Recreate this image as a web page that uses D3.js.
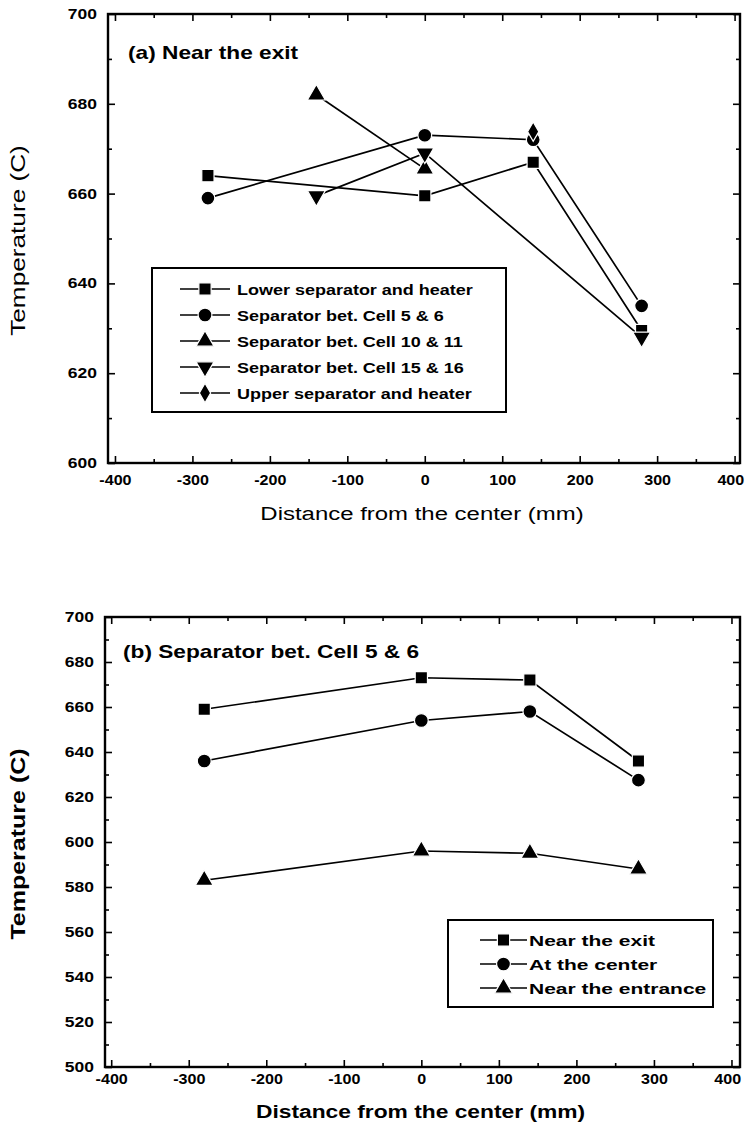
<!DOCTYPE html>
<html lang="en">
<head>
<meta charset="UTF-8" />
<title>Separator temperatures</title>
<script src="https://d3js.org/d3.v7.min.js"></script>
<style>
  body { margin: 0; background: #fff; }
  svg { display: block; font-family: Arial, "Liberation Sans", Helvetica, sans-serif; }
  .frame { fill: none; stroke: #000; stroke-width: 2.4px; }
  .series { fill: none; stroke: #000; stroke-width: 1.7px; }
  .axis path { display: none; }
  .axis line { stroke: #000; stroke-width: 1.6px; }
  .axis text { font-size: 14px; font-weight: bold; fill: #000; }
  .legend-box { fill: #fff; stroke: #000; stroke-width: 2px; }
</style>
</head>
<body>
<svg width="748" height="1126"></svg>
<script>
// (a) near the exit: distance from center (mm) and temperature (C)
const aDist = [-280, -140, 0, 140, 280];
const aLower = [664, null, 659.5, 667, 629.5];
const aCell56 = [659, null, 673, 672, 635];
const aCell1011 = [null, 682, 665.5, null, null];
const aCell1516 = [null, 659.5, 669, null, 628];
const aUpper = [null, null, null, 673.8, null];
const aNames = ["Lower separator and heater", "Separator bet. Cell 5 & 6",
  "Separator bet. Cell 10 & 11", "Separator bet. Cell 15 & 16", "Upper separator and heater"];

// (b) separator between cell 5 & 6
const bDist = [-280, 0, 140, 280];
const bExit = [659, 673, 672, 636];
const bCenter = [636, 654, 658, 627.5];
const bEntrance = [583, 596, 595, 588];
const bNames = ["Near the exit", "At the center", "Near the entrance"];

const xTicks = [-400, -300, -200, -100, 0, 100, 200, 300, 400];
const aYTicks = [600, 620, 640, 660, 680, 700];
const bYTicks = [500, 520, 540, 560, 580, 600, 620, 640, 660, 680, 700];

const svg = d3.select("svg");

const markers = {
  square: { type: d3.symbolSquare, size: 150, rot: 0 },
  circle: { type: d3.symbolCircle, size: 150, rot: 0 },
  up: { type: d3.symbolTriangle, size: 140, rot: 0 },
  down: { type: d3.symbolTriangle, size: 140, rot: 180 },
  diamond: { type: d3.symbolDiamond, size: 110, rot: 0 }
};

function drawMarker(g, kind, cx, cy) {
  const m = markers[kind];
  g.append("path")
    .attr("d", d3.symbol().type(m.type).size(m.size)())
    .attr("transform", `translate(${cx},${cy}) rotate(${m.rot})`)
    .attr("fill", "#000")
    .attr("stroke", "#fff")
    .attr("stroke-width", 1.2);
}

function stretchText(g, x, y, str, sx, opts) {
  return g.append("text")
    .attr("transform", `translate(${x},${y}) ${opts.rotate ? "rotate(-90)" : ""} scale(${sx},1)`)
    .attr("text-anchor", opts.anchor || "start")
    .attr("font-size", opts.size)
    .attr("font-weight", opts.bold ? "bold" : "normal")
    .text(str);
}

function drawPanel(p) {
  const g = svg.append("g");
  const x = d3.scaleLinear().domain(p.xDomain).range([p.left, p.right]);
  const y = d3.scaleLinear().domain(p.yDomain).range([p.bottom, p.top]);
  const xMinor = xTicks.slice(1).map(t => t - 50);
  const yMinor = p.yTicks.slice(1).map(t => t - 10);
  const fmt = d => String(d);

  // bottom axis with labels
  const bx = g.append("g").attr("class", "axis")
    .attr("transform", `translate(0,${p.bottom})`)
    .call(d3.axisBottom(x).tickValues(xTicks).tickSize(-7).tickPadding(p.xPad).tickFormat(fmt));
  bx.selectAll("text").attr("transform", "scale(1.15,1)");
  bx.selectAll(".tick:last-of-type text").attr("text-anchor", "end").attr("x", 8);
  g.append("g").attr("class", "axis")
    .attr("transform", `translate(0,${p.bottom})`)
    .call(d3.axisBottom(x).tickValues(xMinor).tickSize(-4).tickFormat(""));

  // top mirror
  g.append("g").attr("class", "axis")
    .attr("transform", `translate(0,${p.top})`)
    .call(d3.axisTop(x).tickValues(xTicks).tickSize(-7).tickFormat(""));
  g.append("g").attr("class", "axis")
    .attr("transform", `translate(0,${p.top})`)
    .call(d3.axisTop(x).tickValues(xMinor).tickSize(-4).tickFormat(""));

  // left axis with labels
  const ly = g.append("g").attr("class", "axis")
    .attr("transform", `translate(${p.left},0)`)
    .call(d3.axisLeft(y).tickValues(p.yTicks).tickSize(-7).tickFormat(fmt));
  ly.selectAll("text").attr("x", 0).attr("transform", "translate(-11,0) scale(1.25,1)");
  g.append("g").attr("class", "axis")
    .attr("transform", `translate(${p.left},0)`)
    .call(d3.axisLeft(y).tickValues(yMinor).tickSize(-4).tickFormat(""));

  // right mirror
  g.append("g").attr("class", "axis")
    .attr("transform", `translate(${p.right},0)`)
    .call(d3.axisRight(y).tickValues(p.yTicks).tickSize(-7).tickFormat(""));
  g.append("g").attr("class", "axis")
    .attr("transform", `translate(${p.right},0)`)
    .call(d3.axisRight(y).tickValues(yMinor).tickSize(-4).tickFormat(""));

  g.append("rect").attr("class", "frame")
    .attr("x", p.left).attr("y", p.top)
    .attr("width", p.right - p.left).attr("height", p.bottom - p.top);

  // series lines then markers
  const line = d3.line().x(d => x(d[0])).y(d => y(d[1]));
  p.series.forEach(s => {
    const pts = p.dist.map((d, i) => [d, s.values[i]]).filter(d => d[1] != null);
    if (pts.length > 1) g.append("path").attr("class", "series").attr("d", line(pts));
  });
  p.series.forEach(s => {
    p.dist.forEach((d, i) => {
      if (s.values[i] != null) drawMarker(g, s.marker, x(d), y(s.values[i]));
    });
  });

  // panel title
  stretchText(g, p.titleX, p.titleY, p.title, 1.26, { size: 18, bold: true });

  // legend
  const L = p.legend;
  g.append("rect").attr("class", "legend-box")
    .attr("x", L.x).attr("y", L.y).attr("width", L.w).attr("height", L.h);
  p.series.forEach((s, i) => {
    const cy = L.firstRow + i * L.step;
    g.append("line")
      .attr("x1", L.x + L.lineFrom).attr("x2", L.x + L.lineTo)
      .attr("y1", cy).attr("y2", cy)
      .attr("stroke", "#000").attr("stroke-width", 1.6);
    drawMarker(g, s.marker, L.x + (L.lineFrom + L.lineTo) / 2, cy);
    stretchText(g, L.x + L.textX, cy + 5.5, s.name, L.sx, { size: 15, bold: true });
  });

  // axis titles
  stretchText(g, (p.left + p.right) / 2 - 2, p.xTitleY, "Distance from the center (mm)", p.titleSx,
    { size: 19, bold: p.boldTitles, anchor: "middle" });
  stretchText(g, 25, (p.top + p.bottom) / 2 + 2, "Temperature (C)", p.titleSx + 0.05,
    { size: 20, bold: p.boldTitles, anchor: "middle", rotate: true });
}

drawPanel({
  left: 108, right: 740, top: 14, bottom: 463,
  xDomain: [-409, 407], yDomain: [600, 700], yTicks: aYTicks,
  xPad: 12, dist: aDist,
  series: [
    { name: aNames[0], values: aLower, marker: "square" },
    { name: aNames[1], values: aCell56, marker: "circle" },
    { name: aNames[2], values: aCell1011, marker: "up" },
    { name: aNames[3], values: aCell1516, marker: "down" },
    { name: aNames[4], values: aUpper, marker: "diamond" }
  ],
  title: "(a) Near the exit", titleX: 128, titleY: 59,
  legend: { x: 152, y: 268, w: 354, h: 144, firstRow: 289, step: 26,
    lineFrom: 28, lineTo: 78, textX: 85, sx: 1.2 },
  xTitleY: 520, titleSx: 1.26, boldTitles: false
});

drawPanel({
  left: 105, right: 740, top: 617, bottom: 1067,
  xDomain: [-408, 411], yDomain: [500, 700], yTicks: bYTicks,
  xPad: 7, dist: bDist,
  series: [
    { name: bNames[0], values: bExit, marker: "square" },
    { name: bNames[1], values: bCenter, marker: "circle" },
    { name: bNames[2], values: bEntrance, marker: "up" }
  ],
  title: "(b) Separator bet. Cell 5 & 6", titleX: 123, titleY: 658,
  legend: { x: 448, y: 920, w: 265, h: 87, firstRow: 940, step: 24,
    lineFrom: 32, lineTo: 79, textX: 81, sx: 1.4 },
  xTitleY: 1118, titleSx: 1.2, boldTitles: true
});
</script>
</body>
</html>
